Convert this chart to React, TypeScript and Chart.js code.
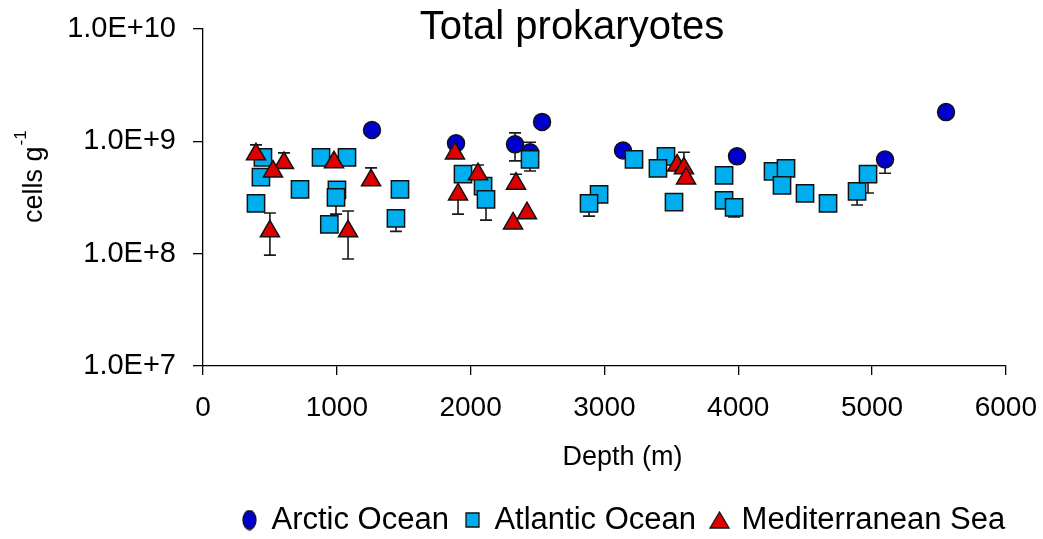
import React, { useEffect, useRef } from "react";
import { Chart, registerables } from "chart.js";

Chart.register(...registerables);

const FONT = "'Liberation Sans', Arial, Helvetica, sans-serif";

const chartTitle = "Total prokaryotes";
const xAxisTitle = "Depth (m)";
const yAxisTitleMain = "cells g";
const yAxisTitleSup = "-1";

const xTicks = [0, 1000, 2000, 3000, 4000, 5000, 6000];
const yTicks = [1e7, 1e8, 1e9, 1e10];

const seriesNames = ["Arctic Ocean", "Atlantic Ocean", "Mediterranean Sea"];
const seriesColors = ["#0000CC", "#00AEEF", "#DD0000"];

// Arctic Ocean
const arcticDepth = [1263, 1891, 2332, 2444, 2534, 3139, 3991, 5097, 5553];
const arcticCells = [1.26e9, 9.6e8, 9.4e8, 8.0e8, 1.49e9, 8.3e8, 7.35e8, 6.9e8, 1.82e9];
const arcticErrLow = [null, null, 6.7e8, null, null, null, null, 5.2e8, null];
const arcticErrHigh = [null, null, 1.19e9, 9.8e8, null, null, null, null, null];

// Atlantic Ocean
const atlanticDepth = [
  448, 433, 396, 882, 1076, 725, 1001, 994, 1472, 1442, 944, 1943, 2093, 2115, 2444,
  2960, 2885, 3221, 3460, 3400, 3520, 3894, 3894, 3969, 4260, 4357, 4327, 4499, 4671,
  4888, 4970,
];
const atlanticCells = [
  7.2e8, 4.8e8, 2.8e8, 7.2e8, 7.2e8, 3.74e8, 3.7e8, 3.17e8, 3.74e8, 2.06e8, 1.82e8,
  5.1e8, 4.0e8, 3.05e8, 6.9e8, 3.37e8, 2.8e8, 6.9e8, 7.35e8, 5.75e8, 2.87e8, 4.98e8,
  2.98e8, 2.58e8, 5.4e8, 5.75e8, 4.06e8, 3.44e8, 2.8e8, 3.59e8, 5.1e8,
];
const atlanticErrLow = [
  null, null, null, null, null, null, null, 2.25e8, null, 1.58e8, null, null, null,
  1.99e8, 5.45e8, null, 2.16e8, null, null, null, null, null, null, 2.12e8, null, null,
  null, null, null, 2.71e8, 3.47e8,
];
const atlanticErrHigh = atlanticDepth.map(() => null);

// Mediterranean Sea
const medDepth = [396, 605, 523, 979, 1256, 500, 1084, 1883, 2055, 1906, 2339, 2421, 2317, 3543, 3594, 3610];
const medCells = [7.66e8, 6.4e8, 5.4e8, 6.5e8, 4.5e8, 1.58e8, 1.58e8, 7.8e8, 5.1e8, 3.37e8, 4.2e8, 2.29e8, 1.86e8, 6.1e8, 5.75e8, 4.68e8];
const medErrLow = [null, null, null, null, null, 9.7e7, 8.96e7, null, null, 2.25e8, null, null, null, null, null, null];
const medErrHigh = [9.3e8, 7.9e8, null, null, 5.8e8, 2.3e8, 2.4e8, null, 6.15e8, null, 5.1e8, null, null, null, 8.0e8, null];

const errorSets = [
  { depth: arcticDepth, cells: arcticCells, low: arcticErrLow, high: arcticErrHigh },
  { depth: atlanticDepth, cells: atlanticCells, low: atlanticErrLow, high: atlanticErrHigh },
  { depth: medDepth, cells: medCells, low: medErrLow, high: medErrHigh },
];

const toPoints = (xs: number[], ys: number[]) => xs.map((x, i) => ({ x, y: ys[i] }));

// small legend marker images (legend glyphs in the reference are slightly stretched)
function makeLegendMarker(kind: string, color: string): HTMLCanvasElement {
  const c = document.createElement("canvas");
  const w = kind === "triangle" ? 21 : 15;
  const h = kind === "circle" ? 21 : kind === "rect" ? 16 : 18;
  c.width = w;
  c.height = h;
  const g = c.getContext("2d") as CanvasRenderingContext2D;
  g.fillStyle = color;
  g.strokeStyle = "#111";
  g.lineWidth = 1.3;
  g.beginPath();
  if (kind === "circle") {
    g.ellipse(w / 2, h / 2, w / 2 - 1, h / 2 - 1, 0, 0, Math.PI * 2);
  } else if (kind === "rect") {
    g.rect(1, 1, w - 2, h - 2);
  } else {
    g.moveTo(w / 2, 1);
    g.lineTo(w - 1, h - 1);
    g.lineTo(1, h - 1);
    g.closePath();
  }
  g.fill();
  g.stroke();
  return c;
}

const errorBarsPlugin = {
  id: "errorBars",
  beforeDatasetsDraw(chart: any) {
    const { ctx } = chart;
    const xs = chart.scales.x;
    const ys = chart.scales.y;
    ctx.save();
    ctx.strokeStyle = "#1a1a1a";
    ctx.lineWidth = 1.6;
    errorSets.forEach((s) => {
      s.depth.forEach((d, i) => {
        const px = xs.getPixelForValue(d);
        const py = ys.getPixelForValue(s.cells[i]);
        [s.low[i], s.high[i]].forEach((e: number | null) => {
          if (e == null) return;
          const pe = ys.getPixelForValue(e);
          ctx.beginPath();
          ctx.moveTo(px, py);
          ctx.lineTo(px, pe);
          ctx.moveTo(px - 6, pe);
          ctx.lineTo(px + 6, pe);
          ctx.stroke();
        });
      });
    });
    ctx.restore();
  },
};

const textPlugin = {
  id: "customText",
  afterLayout(chart: any) {
    const legend = chart.legend;
    if (legend && legend.lineWidths) {
      const pad = 17;
      const start = (legend.left + pad + legend.right - legend.lineWidths[0]) / 2;
      const dx = 243 - start;
      legend.left += dx;
      legend.right += dx;
    }
  },
  afterDraw(chart: any) {
    const { ctx, chartArea } = chart;
    ctx.save();
    ctx.fillStyle = "#000";
    // chart title
    ctx.font = `40px ${FONT}`;
    ctx.textAlign = "center";
    ctx.textBaseline = "alphabetic";
    ctx.fillText(chartTitle, 572, 39);
    // x axis title
    ctx.font = `27px ${FONT}`;
    ctx.fillText(xAxisTitle, (chartArea.left + chartArea.right) / 2 + 18, 465);
    // y axis title
    ctx.translate(42, 223);
    ctx.rotate(-Math.PI / 2);
    ctx.textAlign = "left";
    ctx.font = `27px ${FONT}`;
    ctx.fillText(yAxisTitleMain, 0, 0);
    const w = ctx.measureText(yAxisTitleMain).width;
    ctx.font = `17px ${FONT}`;
    ctx.fillText(yAxisTitleSup, w + 1, -16);
    ctx.restore();
  },
};

export default function App() {
  const canvasRef = useRef<HTMLCanvasElement | null>(null);

  useEffect(() => {
    if (!canvasRef.current) return;
    const legendMarkers = [
      makeLegendMarker("circle", seriesColors[0]),
      makeLegendMarker("rect", seriesColors[1]),
      makeLegendMarker("triangle", seriesColors[2]),
    ];
    const defaultLabels = (Chart as any).defaults.plugins.legend.labels.generateLabels;
    const chart = new Chart(canvasRef.current, {
      type: "scatter",
      data: {
        datasets: [
          {
            label: seriesNames[0],
            data: toPoints(arcticDepth, arcticCells),
            pointStyle: "circle",
            pointRadius: 8.5,
            pointHoverRadius: 8.5,
            backgroundColor: seriesColors[0],
            borderColor: "#111",
            borderWidth: 1.5,
            order: 3,
          },
          {
            label: seriesNames[1],
            data: toPoints(atlanticDepth, atlanticCells),
            pointStyle: "rect",
            pointRadius: 12.2,
            pointHoverRadius: 12.2,
            backgroundColor: seriesColors[1],
            borderColor: "#111",
            borderWidth: 1.5,
            order: 2,
          },
          {
            label: seriesNames[2],
            data: toPoints(medDepth, medCells),
            pointStyle: "triangle",
            pointRadius: 11,
            pointHoverRadius: 11,
            backgroundColor: seriesColors[2],
            borderColor: "#111",
            borderWidth: 1.5,
            order: 1,
          },
        ],
      },
      options: {
        responsive: false,
        animation: false,
        events: [],
        layout: { padding: { left: 0, right: 37, top: 29, bottom: -6.5 } },
        plugins: {
          title: { display: false },
          tooltip: { enabled: false },
          legend: {
            display: true,
            position: "bottom",
            labels: {
              usePointStyle: true,
              pointStyleWidth: 13,
              boxHeight: 14,
              padding: 17,
              color: "#000",
              font: { family: FONT, size: 31 },
              sort: (a: any, b: any) => a.datasetIndex - b.datasetIndex,
              generateLabels: (ch: any) =>
                defaultLabels(ch).map((item: any) => ({
                  ...item,
                  pointStyle: legendMarkers[item.datasetIndex],
                })),
            },
          },
        },
        scales: {
          x: {
            type: "linear",
            min: 0,
            max: 6000,
            afterBuildTicks: (s: any) => {
              s.ticks = xTicks.map((v) => ({ value: v }));
            },
            ticks: {
              color: "#000",
              font: { family: FONT, size: 28, lineHeight: 1.93 },
              padding: 6,
              maxRotation: 0,
              autoSkip: false,
              callback: (v: any) => String(v),
            },
            grid: { drawOnChartArea: false, drawTicks: true, tickLength: 9, color: "#000", lineWidth: 1.3 },
            border: { color: "#000", width: 1.3 },
            afterFit: (s: any) => {
              s.height = 121.5;
            },
          },
          y: {
            type: "logarithmic",
            min: 1e7,
            max: 1e10,
            afterBuildTicks: (s: any) => {
              s.ticks = yTicks.map((v) => ({ value: v }));
            },
            ticks: {
              color: "#000",
              font: { family: FONT, size: 29, lineHeight: 0.8 },
              padding: 17,
              autoSkip: false,
              callback: (v: any) => Number(v).toExponential(1).toUpperCase(),
            },
            grid: { drawOnChartArea: false, drawTicks: true, tickLength: 10, color: "#000", lineWidth: 1.3 },
            border: { color: "#000", width: 1.3 },
            afterFit: (s: any) => {
              s.width = 203;
            },
          },
        },
      },
      plugins: [errorBarsPlugin, textPlugin],
    });
    return () => chart.destroy();
  }, []);

  return (
    <div style={{ position: "absolute", left: 0, top: 0, width: 1043, height: 539, background: "#fff" }}>
      <canvas ref={canvasRef} width={1043} height={539} />
    </div>
  );
}
